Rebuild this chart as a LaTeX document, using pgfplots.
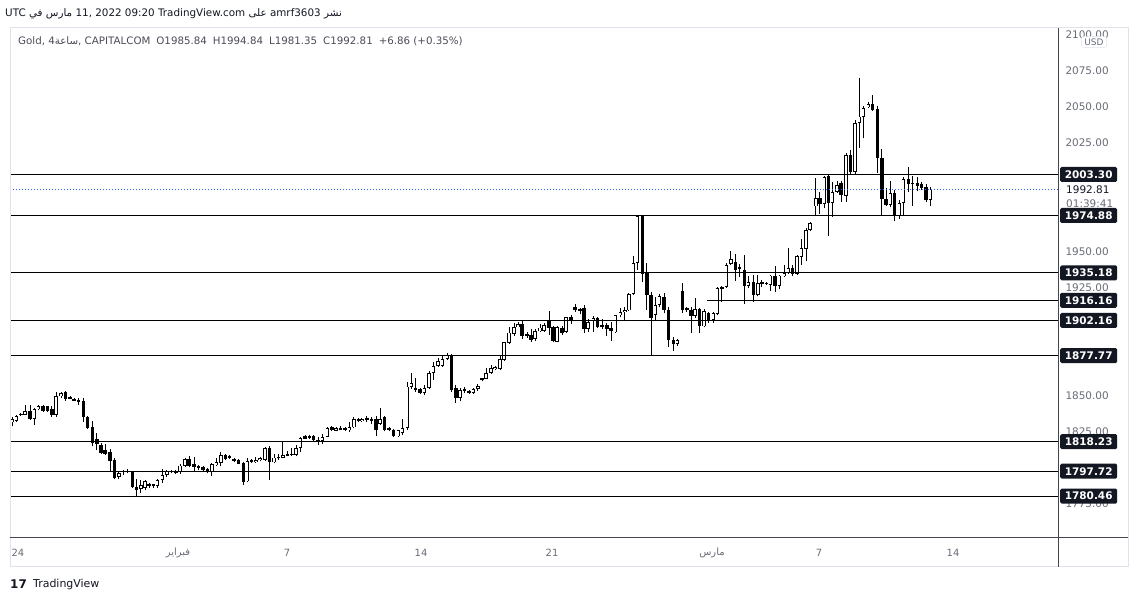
\documentclass[border=0pt]{standalone}
\usepackage{pgfplots}
\pgfplotsset{compat=1.18}
\usepackage{pgfplotstable}
\usepackage{fontspec}
\setmainfont{DejaVu Sans}
\newfontfamily\arabicfont[Script=Arabic]{DejaVu Sans}
\TeXXeTstate=1
\newcommand{\ar}[1]{{\arabicfont\beginR #1\endR}}
\definecolor{tvdark}{HTML}{131722}
\definecolor{tvtick}{HTML}{6A6D78}
\definecolor{tvframe}{HTML}{E0E3EB}
\definecolor{tvsep}{HTML}{434651}
\definecolor{tvblue}{HTML}{2962FF}
\definecolor{tvlegend}{HTML}{4A4D57}

\pgfplotstableread{
x o h l c
12.3 1831.5 1835.0 1828.7 1833.9
16.3 1832.5 1836.6 1832.0 1836.1
20.7 1836.6 1838.2 1836.0 1837.7
25.0 1837.0 1843.8 1836.6 1839.4
30.0 1839.4 1843.6 1833.4 1833.9
34.3 1833.9 1841.5 1829.7 1840.8
38.3 1841.0 1843.8 1839.8 1842.6
43.0 1843.1 1843.6 1838.5 1839.1
47.3 1842.6 1843.0 1838.8 1839.1
51.7 1840.8 1842.6 1835.6 1837.0
56.0 1837.0 1852.8 1835.6 1850.0
61.0 1849.5 1852.3 1848.1 1851.9
65.3 1852.6 1853.5 1846.7 1847.7
70.0 1848.6 1850.0 1847.7 1848.4
74.0 1847.3 1848.6 1846.5 1847.1
78.3 1846.9 1848.4 1843.8 1846.5
83.3 1846.7 1848.4 1831.5 1835.2
87.3 1835.2 1836.1 1827.1 1828.0
92.3 1828.0 1832.2 1814.9 1817.6
96.7 1820.0 1824.2 1812.6 1816.5
101.0 1816.0 1817.2 1809.8 1810.3
105.0 1812.6 1816.7 1809.1 1809.8
110.0 1810.7 1813.1 1797.5 1804.5
114.3 1805.2 1806.6 1792.3 1793.0
118.7 1793.7 1796.9 1792.3 1796.4
123.3 1797.5 1798.7 1795.2 1797.6
127.7 1798.2 1798.9 1796.4 1796.9
132.3 1797.1 1797.8 1786.0 1787.1
136.3 1787.1 1792.3 1780.5 1784.8
140.7 1785.5 1791.6 1782.4 1788.0
145.0 1786.0 1791.6 1784.4 1791.1
149.0 1788.1 1789.8 1786.4 1788.5
153.3 1788.5 1789.0 1786.0 1788.3
157.3 1787.8 1792.3 1786.0 1791.8
162.3 1791.4 1799.3 1789.5 1795.3
166.7 1795.3 1798.7 1793.7 1797.6
171.7 1797.5 1798.7 1796.4 1797.7
175.7 1797.4 1798.7 1796.0 1797.2
180.0 1796.9 1802.4 1796.0 1801.6
185.0 1801.1 1806.9 1800.7 1806.2
189.0 1806.2 1808.4 1800.7 1801.1
194.0 1802.5 1807.9 1797.6 1800.5
198.3 1801.1 1802.2 1798.8 1800.3
203.0 1800.8 1801.5 1798.2 1798.7
207.3 1799.1 1799.8 1796.4 1797.1
211.7 1796.9 1803.4 1794.1 1802.9
216.3 1802.2 1806.8 1801.1 1803.8
220.7 1803.3 1810.7 1801.1 1809.1
225.3 1809.1 1809.6 1805.6 1806.2
229.3 1807.7 1809.1 1806.2 1807.5
234.0 1806.3 1807.2 1804.3 1805.2
238.3 1805.4 1805.9 1802.4 1802.9
243.3 1803.4 1803.8 1788.3 1790.0
247.3 1790.6 1806.8 1789.9 1804.5
251.3 1805.2 1806.0 1803.4 1803.8
255.7 1804.0 1807.8 1803.6 1805.6
260.0 1805.4 1807.5 1804.7 1806.8
265.0 1805.6 1814.2 1805.1 1813.7
269.3 1813.7 1814.9 1791.3 1803.8
274.0 1803.8 1809.8 1803.1 1807.2
278.3 1806.8 1809.8 1805.5 1807.9
282.7 1807.2 1818.1 1806.6 1809.1
287.3 1808.7 1811.5 1808.0 1809.6
291.7 1809.3 1813.7 1808.5 1809.8
296.0 1809.1 1816.1 1808.0 1813.7
300.3 1813.7 1821.6 1810.7 1820.7
305.0 1821.8 1823.0 1819.9 1820.2
309.3 1820.7 1823.0 1820.3 1821.8
313.3 1821.8 1822.6 1818.7 1819.0
318.0 1819.5 1821.1 1815.7 1817.9
322.3 1818.4 1823.7 1816.9 1821.4
327.3 1821.4 1828.4 1821.1 1827.7
331.7 1828.0 1828.7 1825.3 1826.0
336.0 1825.8 1828.2 1825.3 1827.7
340.3 1827.2 1828.7 1826.5 1827.4
345.0 1827.7 1828.5 1825.8 1826.3
349.3 1826.0 1831.5 1824.6 1828.5
353.7 1828.0 1835.0 1827.4 1833.9
358.3 1834.1 1834.5 1831.5 1832.2
361.7 1832.5 1834.5 1832.0 1833.9
366.7 1833.7 1836.0 1831.7 1834.0
371.3 1833.4 1835.3 1830.4 1833.2
376.0 1834.1 1835.7 1821.8 1826.0
380.0 1830.5 1841.5 1829.8 1834.1
384.3 1835.2 1835.9 1825.3 1826.0
389.0 1827.2 1828.0 1825.3 1826.7
393.3 1826.4 1827.0 1821.1 1821.8
398.3 1821.8 1826.4 1821.1 1826.0
402.3 1824.0 1834.1 1822.8 1827.7
407.3 1827.7 1859.2 1826.5 1856.4
411.3 1856.4 1865.8 1855.0 1858.8
415.3 1855.3 1862.2 1852.7 1854.2
420.0 1854.6 1855.3 1851.4 1851.9
424.3 1851.9 1857.6 1850.2 1855.3
429.0 1855.3 1867.0 1854.6 1865.8
433.3 1865.8 1873.1 1860.8 1870.8
438.0 1870.8 1876.1 1870.1 1873.8
442.3 1870.6 1877.7 1870.1 1875.4
447.3 1875.4 1879.4 1874.6 1878.4
451.3 1878.4 1879.1 1852.7 1854.2
455.7 1855.3 1857.6 1845.0 1848.4
460.0 1848.4 1855.3 1846.2 1854.2
464.3 1854.6 1856.4 1851.6 1853.0
469.0 1853.0 1853.8 1851.2 1851.9
473.3 1851.9 1855.5 1851.4 1854.6
477.7 1854.6 1858.0 1853.5 1857.0
482.0 1860.8 1862.6 1860.0 1862.0
486.0 1861.8 1869.3 1861.3 1865.8
491.0 1865.8 1871.6 1865.1 1869.3
495.0 1868.4 1870.6 1867.6 1869.8
500.0 1868.4 1877.7 1867.9 1875.4
504.0 1874.9 1887.5 1874.2 1887.0
509.0 1886.6 1897.5 1885.9 1893.8
514.0 1893.1 1900.6 1891.6 1897.5
518.0 1897.7 1901.4 1897.3 1899.4
522.0 1899.4 1902.2 1889.4 1891.6
527.0 1892.8 1894.4 1889.8 1891.2
531.0 1892.0 1896.2 1887.4 1888.8
535.0 1889.4 1896.2 1888.2 1894.9
540.0 1894.6 1900.0 1894.2 1897.2
544.0 1894.9 1900.6 1894.2 1898.9
549.0 1902.6 1908.4 1892.3 1896.9
553.0 1897.6 1898.5 1887.2 1887.6
557.0 1887.2 1898.1 1886.9 1897.6
562.0 1896.9 1898.1 1892.3 1893.5
566.0 1894.4 1904.9 1893.7 1904.4
571.0 1904.4 1906.0 1900.0 1902.5
575.0 1911.8 1913.7 1908.3 1909.5
580.0 1909.7 1910.6 1906.6 1909.3
584.0 1910.6 1912.9 1893.3 1896.0
588.0 1896.0 1902.9 1894.4 1901.2
593.3 1901.6 1905.4 1893.9 1903.9
597.3 1903.8 1904.9 1896.9 1897.6
602.0 1899.2 1903.4 1896.2 1897.8
606.7 1899.2 1900.6 1891.6 1896.2
611.0 1896.9 1901.4 1888.2 1894.6
615.3 1893.9 1906.2 1893.3 1905.6
620.3 1905.6 1910.6 1904.4 1907.7
624.7 1907.7 1911.8 1901.5 1909.1
628.7 1909.1 1921.2 1908.8 1920.5
633.3 1920.5 1946.5 1919.8 1942.0
637.3 1942.0 1974.9 1937.3 1974.3
642.3 1974.3 1974.9 1928.7 1934.6
646.7 1935.1 1942.0 1909.6 1920.0
651.0 1920.0 1921.8 1877.8 1903.8
655.3 1906.1 1918.1 1902.6 1913.1
659.3 1913.1 1920.5 1911.3 1918.8
664.0 1918.4 1921.2 1907.2 1909.6
668.3 1909.6 1911.4 1883.6 1888.8
673.3 1888.8 1890.5 1881.0 1886.0
677.3 1886.0 1889.6 1884.6 1888.8
682.3 1922.3 1927.8 1907.2 1909.6
686.7 1911.0 1911.6 1908.3 1909.5
691.0 1909.1 1911.6 1893.4 1905.4
695.0 1905.4 1917.9 1904.0 1910.1
699.3 1910.1 1911.0 1893.4 1898.0
704.0 1898.0 1910.3 1897.5 1908.4
708.3 1907.1 1908.1 1900.6 1902.4
713.3 1902.4 1908.1 1900.6 1907.3
717.3 1906.6 1925.3 1905.9 1924.6
721.7 1924.2 1926.2 1915.0 1925.1
726.3 1925.1 1941.8 1924.4 1940.3
730.7 1941.3 1950.1 1940.5 1944.7
735.3 1942.6 1948.3 1929.5 1937.3
739.3 1938.2 1941.3 1932.4 1938.9
744.3 1937.3 1947.7 1913.5 1925.8
748.3 1925.8 1933.3 1924.4 1928.9
753.3 1928.9 1933.6 1915.0 1919.6
757.7 1919.6 1933.6 1918.9 1928.2
761.7 1928.5 1930.2 1925.5 1927.4
766.3 1927.4 1928.5 1926.8 1928.2
770.3 1926.8 1934.0 1922.4 1933.3
775.0 1933.3 1939.9 1922.0 1925.8
779.3 1925.8 1934.0 1923.7 1933.3
784.3 1932.8 1940.8 1932.0 1935.1
788.3 1935.1 1952.5 1934.6 1938.3
792.3 1938.3 1940.8 1932.8 1934.4
797.0 1934.4 1947.3 1933.7 1946.5
801.3 1946.3 1958.3 1940.3 1952.1
806.0 1951.5 1966.2 1943.1 1964.7
810.0 1964.7 1970.1 1963.9 1969.4
815.7 1981.2 2000.6 1975.3 1987.0
819.7 1987.0 1991.4 1976.0 1983.0
824.3 1983.0 2002.3 1980.0 2001.4
828.3 2002.3 2003.3 1960.9 1983.3
832.3 1983.8 1998.1 1974.0 1991.4
837.0 1991.4 1999.0 1990.6 1996.0
841.0 1997.2 1999.0 1984.5 1989.1
846.0 1988.4 2018.3 1984.5 2016.8
850.3 2016.8 2020.1 2003.0 2005.3
855.0 2005.3 2041.2 2003.0 2038.8
859.3 2038.8 2070.0 2021.4 2043.4
863.3 2043.4 2050.8 2028.4 2049.2
868.3 2049.9 2053.6 2049.1 2052.1
872.3 2052.1 2058.4 2047.5 2048.0
877.3 2048.5 2050.5 2004.3 2014.5
881.7 2014.5 2020.8 1975.3 1986.1
886.0 1986.1 1993.7 1981.5 1982.1
890.3 1982.1 1998.9 1980.5 1990.7
894.3 1990.7 1992.8 1970.8 1974.6
899.3 1974.6 1985.7 1972.7 1983.3
903.3 1983.3 2001.6 1974.6 2000.0
908.3 2000.0 2008.3 1991.4 1996.5
912.3 1996.5 2002.1 1981.5 1997.7
917.3 1997.7 2001.3 1991.8 1995.3
921.3 1996.5 1998.2 1992.3 1993.8
926.0 1994.5 1996.5 1984.5 1985.7
930.3 1985.84 1994.84 1981.35 1992.81
}\gold

\pgfplotsset{
  candlepart/.style={forget plot, only marks, mark=*, mark size=0pt,
    mark options={draw=none, fill=none}},
}

\begin{document}
\begin{tikzpicture}[x=1bp,y=1bp]
\path[use as bounding box, fill=white] (0,0) rectangle (1137,602);
\begin{axis}[
  at={(10bp,64bp)}, anchor=south west,
  scale only axis, width=1048bp, height=510bp,
  xmin=10, xmax=1058, ymin=1751.44, ymax=2104.8,
  axis line style={draw=none}, tick style={draw=none}, major tick length=0pt,
  xtick={18,178,287,421,552,712,819,953},
  xticklabels={24,\ar{فبراير},7,14,21,\ar{مارس},7,14},
  xticklabel style={font=\fontsize{10}{12}\selectfont, text=tvtick, anchor=center, yshift=-15bp},
  ytick={1775,1825,1850,1925,1950,2025,2050,2075,2100},
  yticklabel pos=right,
  yticklabel style={font=\fontsize{10.5}{12}\selectfont, text=tvtick, anchor=west, xshift=4bp,
    /pgf/number format/fixed, /pgf/number format/fixed zerofill,
    /pgf/number format/precision=2, /pgf/number format/1000 sep={},
    /pgf/number format/assume math mode=true},
  extra y ticks={2003.30,1974.88,1935.18,1916.16,1902.16,1877.77,1818.23,1797.72,1780.46},
  extra y tick style={yticklabel style={fill=tvdark, text=white,
    font=\bfseries\fontsize{10.5}{12}\selectfont, xshift=-2bp,
    minimum width=57bp, minimum height=15bp, inner ysep=1bp, rounded corners=1.5bp}},
]
% wicks
\addplot[candlepart,
  error bars/.cd, y dir=plus, y explicit, error mark=none,
  error bar style={line width=0.9bp, black}]
  table[x=x, y=l, y error expr=\thisrow{h}-\thisrow{l}] {\gold};
% bodies (black outline / fill)
\addplot[candlepart,
  error bars/.cd, y dir=both, y explicit, error mark=none,
  error bar style={line width=3.6bp, black}]
  table[x=x, y expr=(\thisrow{o}+\thisrow{c})/2,
        y error expr={max(abs(\thisrow{c}-\thisrow{o})/2,0.4)}] {\gold};
% hollow interiors of rising candles
\addplot[candlepart,
  error bars/.cd, y dir=both, y explicit, error mark=none,
  error bar style={line width=1.9bp, white}]
  table[x=x, y expr=(\thisrow{o}+\thisrow{c})/2,
        y error expr={(\thisrow{c}>\thisrow{o})*max(abs(\thisrow{c}-\thisrow{o})/2-0.6,0)}] {\gold};
% horizontal levels
\addplot[black, line width=0.9bp, forget plot] coordinates {(10,2003.30) (1058,2003.30)};
\addplot[black, line width=0.9bp, forget plot] coordinates {(10,1974.88) (1058,1974.88)};
\addplot[black, line width=0.9bp, forget plot] coordinates {(10,1935.18) (1058,1935.18)};
\addplot[black, line width=0.9bp, forget plot] coordinates {(707,1916.16) (1058,1916.16)};
\addplot[black, line width=0.9bp, forget plot] coordinates {(10,1902.16) (1058,1902.16)};
\addplot[black, line width=0.9bp, forget plot] coordinates {(10,1877.77) (1058,1877.77)};
\addplot[black, line width=0.9bp, forget plot] coordinates {(10,1818.23) (1058,1818.23)};
\addplot[black, line width=0.9bp, forget plot] coordinates {(10,1797.72) (1058,1797.72)};
\addplot[black, line width=0.9bp, forget plot] coordinates {(10,1780.46) (1058,1780.46)};
% current price line
\addplot[tvblue, line width=1.2bp, dash pattern=on 1.4bp off 1.6bp, forget plot] coordinates {(10,1992.81) (1058,1992.81)};
\end{axis}
% frame and scale separators
\draw[tvframe, line width=1bp] (10,35) rectangle (1128,574);
\draw[tvsep, line width=1bp] (10,64) -- (1128,64);
\draw[tvsep, line width=1bp] (1058,35) -- (1058,574);
% price scale extras
\node[draw=tvframe, rounded corners=2bp, fill=white, text=tvtick,
  font=\fontsize{9}{10}\selectfont, inner xsep=3bp, inner ysep=2bp] at (1094,560) {USD};
\node[anchor=west, inner sep=0, font=\fontsize{10.5}{12}\selectfont, text=tvdark] at (1066,412) {1992.81};
\node[anchor=west, inner sep=0, font=\fontsize{10.5}{12}\selectfont, text=tvtick] at (1066,398) {01:39:41};
% header
\node[anchor=west, inner sep=0, font=\fontsize{10.4}{12}\selectfont, text=tvdark] at (5,588)
  {UTC \ar{في} \ar{مارس} 11, 2022 09:20 TradingView.com \ar{على} amrf3603 \ar{نشر}};
\node[anchor=west, inner sep=0, font=\fontsize{10.3}{12}\selectfont, text=tvlegend] at (18,561)
  {Gold, 4\ar{ساعة}, CAPITALCOM\hspace{6bp}O1985.84\hspace{6bp}H1994.84\hspace{6bp}L1981.35\hspace{6bp}C1992.81\hspace{6bp}+6.86 (+0.35\%)};
% footer
\node[anchor=west, inner sep=0, font=\bfseries\fontsize{12}{14}\selectfont, text=tvdark] at (10,18) {17};
\node[anchor=west, inner sep=0, font=\fontsize{11}{13}\selectfont, text=tvdark] at (33,18) {TradingView};
\end{tikzpicture}
\end{document}
